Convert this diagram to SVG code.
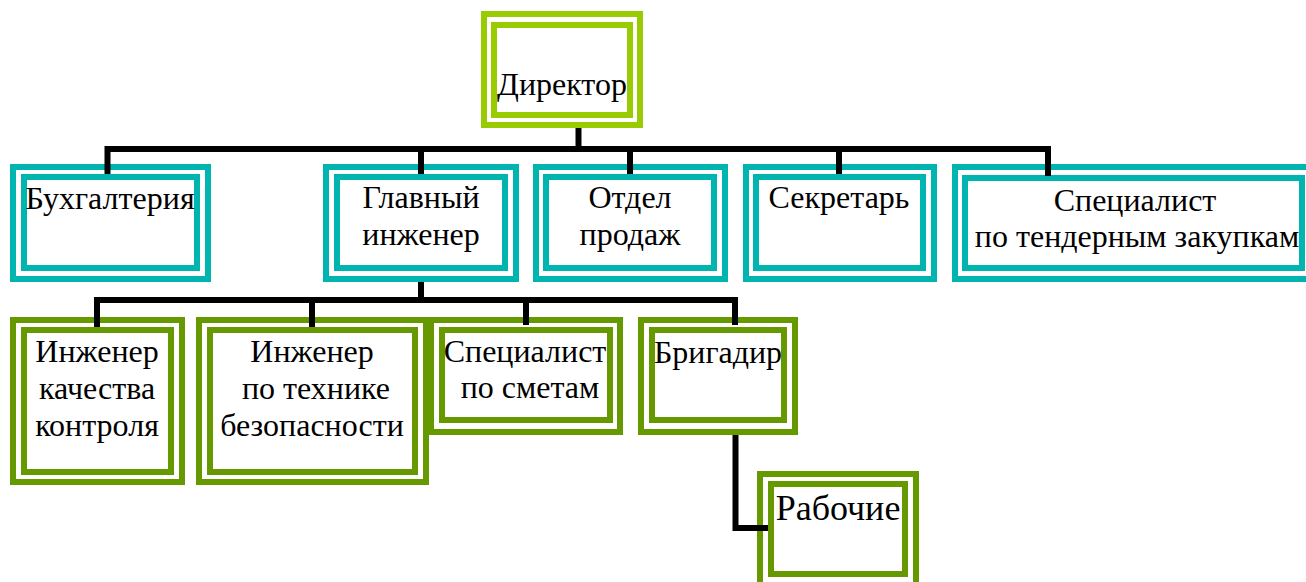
<svg xmlns="http://www.w3.org/2000/svg" width="1306" height="582" viewBox="0 0 1306 582">
<style>
.o{fill:#fff;stroke-width:6}
.i{fill:none;stroke-width:6}
.y{stroke:#99CC00}
.t{stroke:#00B5B0}
.g{stroke:#669900}
.c{fill:none;stroke:#000;stroke-width:6;stroke-linejoin:miter}
text{font-family:"Liberation Serif","Times New Roman",serif;font-size:32px;fill:#000;text-anchor:middle}
</style>
<rect width="1306" height="582" fill="#fff"/>
<g id="director">
<rect class="o y" x="484" y="14" width="156" height="111"/>
<rect class="i y" x="494" y="25" width="136" height="90"/>
<text x="562" y="95">Директор</text>
</g>
<g id="buh">
<rect class="o t" x="13" y="167" width="195" height="112"/>
<rect class="i t" x="24" y="177" width="173" height="91"/>
<text x="110" y="209">Бухгалтерия</text>
</g>
<g id="glavinzh">
<rect class="o t" x="326" y="167" width="190" height="112"/>
<rect class="i t" x="337" y="177" width="168" height="91"/>
<text x="421" y="208">Главный</text>
<text x="421" y="245">инженер</text>
</g>
<g id="prodazh">
<rect class="o t" x="536" y="167" width="189" height="112"/>
<rect class="i t" x="546" y="177" width="168" height="91"/>
<text x="630" y="208">Отдел</text>
<text x="630" y="245">продаж</text>
</g>
<g id="sekretar">
<rect class="o t" x="746" y="167" width="188" height="112"/>
<rect class="i t" x="756" y="177" width="167" height="91"/>
<text x="839" y="208">Секретарь</text>
</g>
<g id="tender">
<rect class="o t" x="955" y="167" width="360" height="112"/>
<rect class="i t" x="965" y="178" width="337" height="90"/>
<text x="1135" y="211">Специалист</text>
<text x="1137" y="247">по тендерным закупкам</text>
</g>
<g id="inzhkach">
<rect class="o g" x="13" y="320" width="169" height="162"/>
<rect class="i g" x="24" y="330" width="147" height="142"/>
<text x="97" y="362">Инженер</text>
<text x="97" y="399">качества</text>
<text x="97" y="436">контроля</text>
</g>
<g id="inzhtb">
<rect class="o g" x="199" y="320" width="227" height="162"/>
<rect class="i g" x="210" y="330" width="205" height="142"/>
<text x="312" y="362">Инженер</text>
<text x="316" y="399">по технике</text>
<text x="312" y="436">безопасности</text>
</g>
<g id="smety">
<rect class="o g" x="431" y="320" width="189" height="112"/>
<rect class="i g" x="442" y="330" width="168" height="90"/>
<text x="525" y="362">Специалист</text>
<text x="530" y="398">по сметам</text>
</g>
<g id="brigadir">
<rect class="o g" x="641" y="320" width="154" height="112"/>
<rect class="i g" x="652" y="330" width="132" height="90"/>
<text x="718" y="363">Бригадир</text>
</g>
<g id="rabochie">
<rect class="o g" x="760" y="474" width="156" height="120"/>
<rect class="i g" x="771" y="484" width="134" height="90"/>
<text x="838" y="520" style="font-size:36px">Рабочие</text>
</g>
<g id="connectors">
<path class="c" d="M578.5 128V149"/>
<path class="c" d="M107.5 174V149H1048V176"/>
<path class="c" d="M421 149V174M630 149V174M839 149V174"/>
<path class="c" d="M421 282V300"/>
<path class="c" d="M97 327V300H735V325"/>
<path class="c" d="M312 300V327M526 300V325"/>
<path class="c" d="M735.5 435V528H768"/>
</g>
</svg>
